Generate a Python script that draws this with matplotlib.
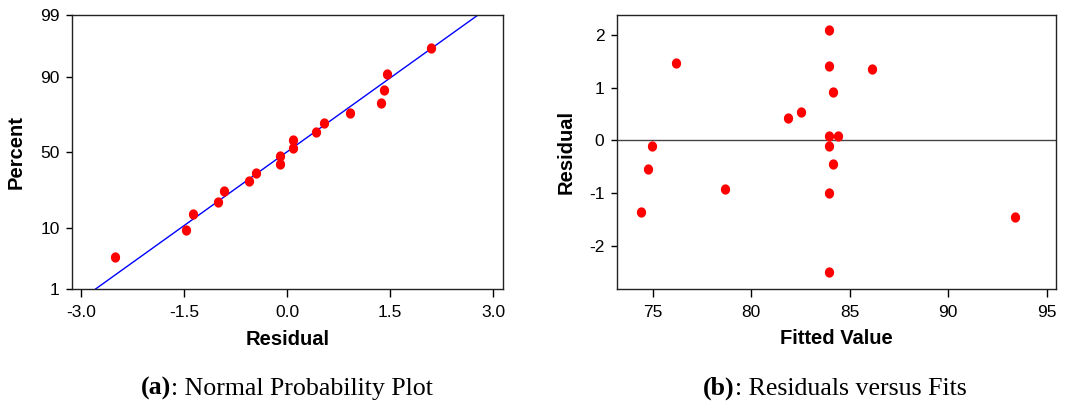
import numpy as np
import matplotlib
matplotlib.use('Agg')
import matplotlib.pyplot as plt
from matplotlib.path import Path
from statistics import NormalDist

plt.rcParams['font.family'] = ['Liberation Sans', 'DejaVu Sans']
plt.rcParams['axes.unicode_minus'] = False

# fitted values and residuals
fitted = [74.41, 74.78, 74.98, 76.20, 78.67, 81.88, 82.55, 83.95, 83.95,
          84.14, 83.95, 84.43, 83.95, 84.14, 83.95, 83.95, 86.11, 93.40]
residual = [-1.37, -0.55, -0.11, 1.46, -0.92, 0.42, 0.54, 2.09, 1.41,
            0.91, 0.085, 0.085, -0.11, -0.45, -1.01, -2.51, 1.36, -1.465]
# plotted percent for the sorted residuals (panel a)
percent = [3.8, 9.2, 14.7, 20.1, 25.5, 31.0, 36.4, 41.8, 47.3,
           52.7, 58.2, 63.6, 69.0, 74.5, 79.9, 85.3, 90.8, 96.2]
pct_ticks = [1, 10, 50, 90, 99]
res_ticks = [-3.0, -1.5, 0.0, 1.5, 3.0]

nd = NormalDist()
def zq(p):
    return np.array([nd.inv_cdf(v / 100.0) for v in np.atleast_1d(p)])

# slightly tall dot, like the original rendering
t = np.linspace(0, 2 * np.pi, 40)
dot = Path(np.column_stack([0.9 * np.cos(t), np.sin(t)]), closed=True)

fig = plt.figure(figsize=(10.74, 4.05), dpi=100)
ax1 = fig.add_axes([0.0670, 0.2857, 0.4011, 0.6773])
ax2 = fig.add_axes([0.5742, 0.2857, 0.4090, 0.6773])

tick_fs = 12.5
lab_fs = 14.5
ms = 7.4

# (a) normal probability plot
r_sorted = np.sort(residual)
mu, sd = np.mean(residual), np.std(residual, ddof=1)
zline = zq(np.linspace(0.5, 99.5, 200))
ax1.plot(mu + sd * zline, zline, color='#0000ff', lw=1)
ax1.plot(r_sorted, zq(percent), ls='none', marker=dot, color='#ff0000', ms=ms, mew=0)
ax1.set_xlim(-3.13, 3.137)
ax1.set_ylim(zq(1)[0], zq(99)[0])
ax1.set_yticks(zq(pct_ticks))
ax1.set_yticklabels([str(p) for p in pct_ticks])
ax1.set_xticks(res_ticks)
ax1.set_xticklabels(['%.1f' % v for v in res_ticks])
ax1.set_xlabel('Residual', fontsize=lab_fs, fontweight='bold')
ax1.set_ylabel('Percent', fontsize=lab_fs, fontweight='bold')
ax1.xaxis.set_label_coords(0.5, -0.148)
ax1.yaxis.set_label_coords(-0.107, 0.5)

# (b) residuals versus fits
ax2.axhline(0, color='#444444', lw=1)
ax2.plot(fitted, residual, ls='none', marker=dot, color='#ff0000', ms=ms, mew=0)
ax2.set_xlim(73.17, 95.47)
ax2.set_ylim(-2.83, 2.38)
ax2.set_xticks([75, 80, 85, 90, 95])
ax2.set_yticks([-2, -1, 0, 1, 2])
ax2.set_xlabel('Fitted Value', fontsize=lab_fs, fontweight='bold')
ax2.set_ylabel('Residual', fontsize=lab_fs, fontweight='bold')
ax2.xaxis.set_label_coords(0.5, -0.145)
ax2.yaxis.set_label_coords(-0.093, 0.5)

for ax in (ax1, ax2):
    ax.tick_params(axis='x', direction='out', length=5.5, width=1, pad=6, labelsize=tick_fs)
    ax.tick_params(axis='y', direction='out', length=4.3, width=1, pad=4.5, labelsize=tick_fs)
    for s in ax.spines.values():
        s.set_color('#222222')
        s.set_linewidth(1)

# captions
serif = ['Liberation Serif', 'DejaVu Serif']
cap_fs = 18.6
fig.text(171 / 1074, 0.0247, '(a)', ha='right', va='baseline', fontsize=cap_fs, fontweight='bold', family=serif)
fig.text(171 / 1074, 0.0247, ': Normal Probability Plot', ha='left', va='baseline', fontsize=cap_fs, family=serif)
fig.text(735 / 1074, 0.0247, '(b)', ha='right', va='baseline', fontsize=cap_fs, fontweight='bold', family=serif)
fig.text(735 / 1074, 0.0247, ': Residuals versus Fits', ha='left', va='baseline', fontsize=cap_fs, family=serif)

fig.savefig('out.png', dpi=100)
